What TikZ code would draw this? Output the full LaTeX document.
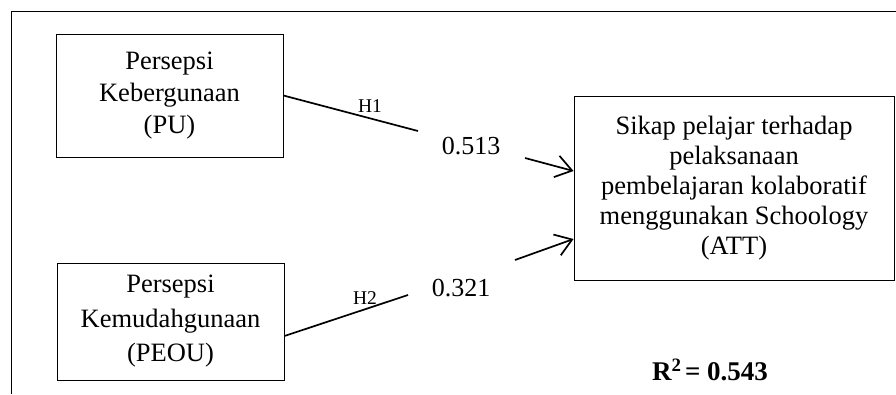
\documentclass[tikz,border=0pt]{standalone}
\usepackage{fontspec}
\setmainfont{Liberation Serif}
\usetikzlibrary{arrows.meta,calc}
\begin{document}
\begin{tikzpicture}[x=1pt,y=-1pt,
  box/.style={draw,line width=0.9pt,rectangle,inner sep=0pt,align=center,
    font=\fontsize{26.5}{32}\selectfont},
  conn/.style={line width=1.7pt},
  arr/.style={line width=1.7pt,-{Straight Barb[length=16pt,width=22pt,line width=1.7pt]}},
  hlab/.style={font=\fontsize{19.5}{22}\selectfont,inner sep=0pt},
  coef/.style={font=\fontsize{26}{30}\selectfont,inner sep=0pt}]
\useasboundingbox (0,0) rectangle (896,394);
\draw[line width=0.9pt] (896,11) -- (11,11) -- (11,394);
\node[box,minimum width=227pt,minimum height=123pt] (pu) at (169.5,95.5)
  {Persepsi\\Kebergunaan\\(PU)};
\node[box,minimum width=227pt,minimum height=117pt,
  font=\fontsize{26.5}{34.5}\selectfont] (peou) at (170.5,321.5)
  {Persepsi\\Kemudahgunaan\\(PEOU)};
\node[box,minimum width=320pt,minimum height=184pt,
  font=\fontsize{26.5}{30}\selectfont] (att) at (734,188)
  {Sikap pelajar terhadap\\pelaksanaan\\pembelajaran kolaboratif\\menggunakan Schoology\\(ATT)};
\coordinate (h1e) at (418,131);
\coordinate (a1s) at (525,158);
\coordinate (h2s) at ($(peou.east)+(0,14.5)$);
\coordinate (h2e) at (408,295);
\coordinate (a2s) at (515,260);
\draw[conn] (pu.east) -- (h1e);
\draw[arr] (a1s) -- ($(att.west)+(0,-17)$);
\draw[conn] (h2s) -- (h2e);
\draw[arr] (a2s) -- ($(att.west)+(0,51)$);
\node[hlab] (lh1) at (370,106) {H1};
\node[hlab] (lh2) at (365,298) {H2};
\node[coef] (c1) at (471,146) {0.513};
\node[coef] (c2) at (461,288) {0.321};
\node[font=\fontsize{27}{30}\bfseries,inner sep=0pt] (r2) at (710,370)
  {R\textsuperscript{2}\hspace{-0.12em} = 0.543};
\end{tikzpicture}
\end{document}
